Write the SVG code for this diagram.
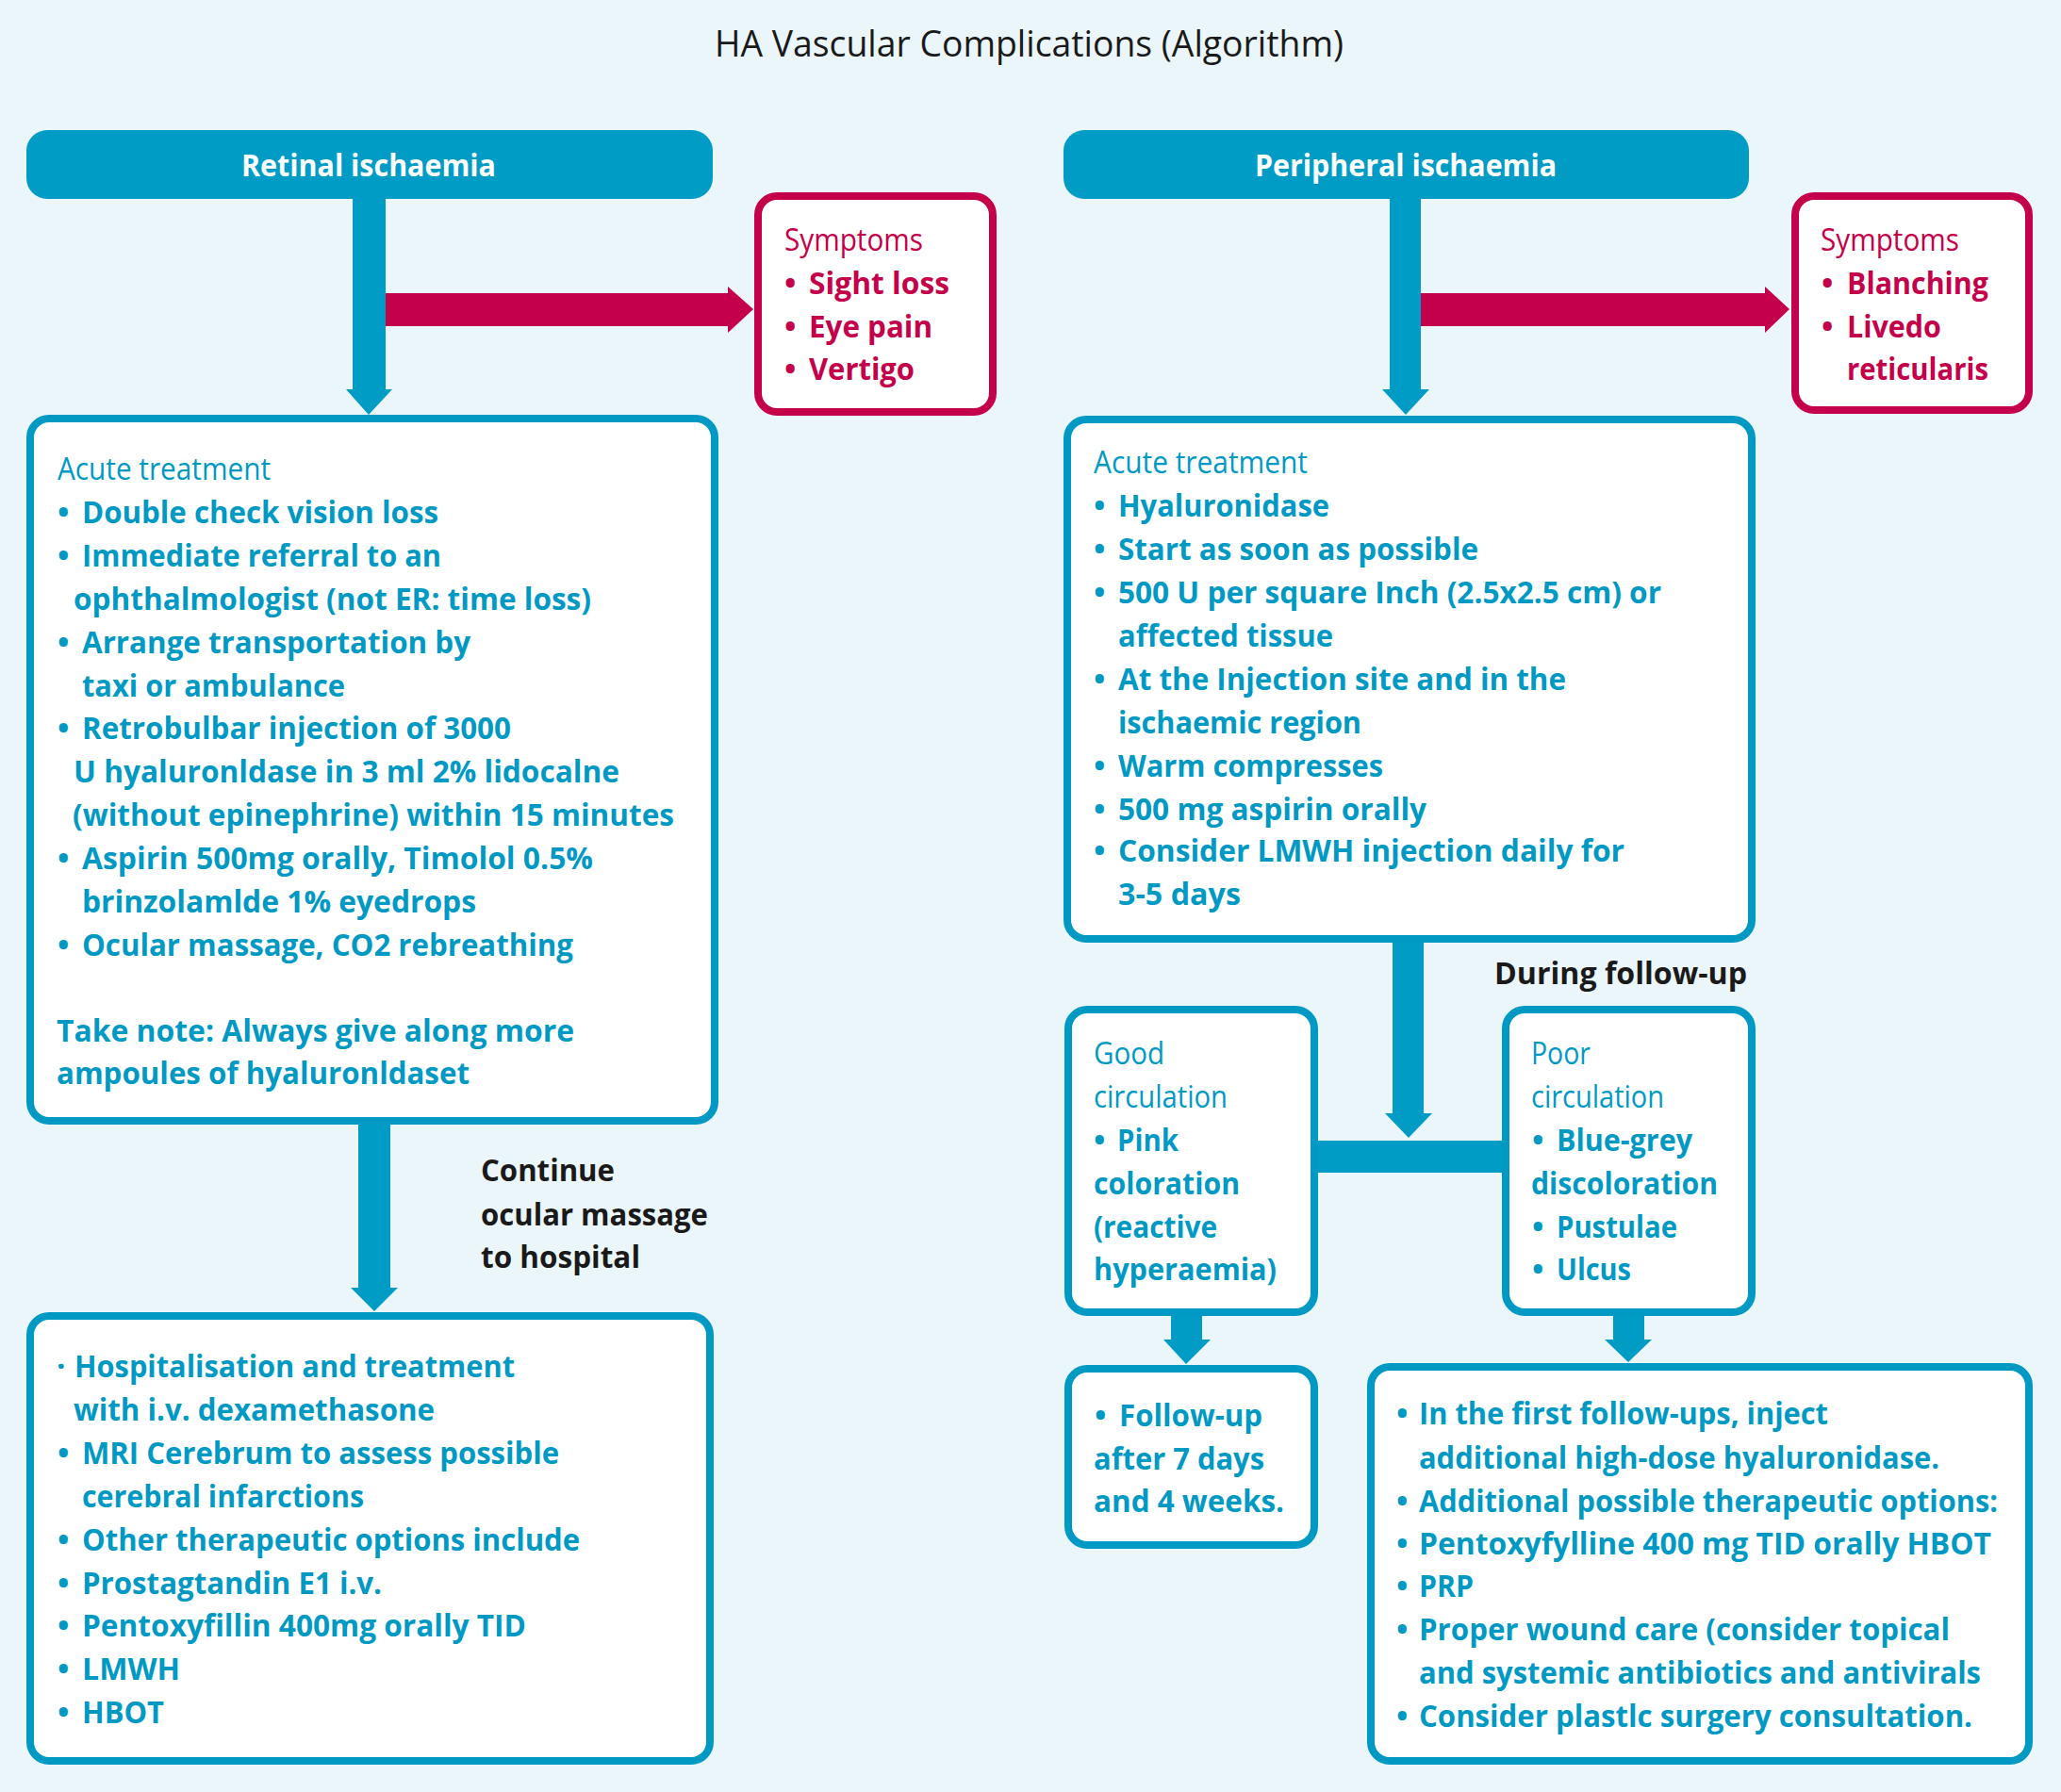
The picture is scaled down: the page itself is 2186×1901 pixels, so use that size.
<svg xmlns="http://www.w3.org/2000/svg" width="2186" height="1901" viewBox="0 0 2186 1901">
<style>
text{font-family:"Open Sans","Noto Sans","DejaVu Sans",sans-serif;font-size:33px}
.b{font-weight:700;fill:#0099C4}
.r{font-weight:400;fill:#0099C4;font-size:32px}
.rb{font-weight:700;fill:#C4004A}
.rr{font-weight:400;fill:#C4004A;font-size:32px}
.k{font-weight:700;fill:#1A1A1A}
.w{font-weight:700;fill:#FFFFFF}
.t{font-weight:400;fill:#1A1A1A;font-size:38px}
.box{fill:#FFFFFF;stroke:#0099C4;stroke-width:8}
.sbox{fill:#FFFFFF;stroke:#C4004A;stroke-width:8}
.hdr{fill:#009CC6}
.con{fill:#009CC6}
.rc{fill:#C4004A}
</style>
<rect width="2186" height="1901" fill="#EAF6FA"/>
<text class="t" x="758" y="60" textLength="667" lengthAdjust="spacingAndGlyphs">HA Vascular Complications (Algorithm)</text>

<g id="connectors">
<polygon class="con" points="374,205 409,205 409,413 416,413 391,440 367,413 374,413"/>
<polygon class="rc" points="409,311 772,311 772,304 799,328 772,353 772,346 409,346"/>
<polygon class="con" points="1474,205 1507,205 1507,413 1516,413 1491,440 1466,413 1474,413"/>
<polygon class="rc" points="1507,311 1872,311 1872,304 1898,328 1872,353 1872,346 1507,346"/>
<polygon class="con" points="1477,995 1510,995 1510,1181 1519,1181 1494,1207 1469,1181 1477,1181"/>
<rect class="con" x="1394" y="1210" width="203" height="34"/>
<polygon class="con" points="1242,1390 1275,1390 1275,1421 1284,1421 1258,1447 1234,1421 1242,1421"/>
<polygon class="con" points="1711,1390 1744,1390 1744,1421 1752,1421 1727,1445 1702,1421 1711,1421"/>
<polygon class="con" points="380,1188 414,1188 414,1366 422,1366 397,1391 372,1366 380,1366"/>
</g>

<g id="retinal-header">
<rect class="hdr" x="28" y="138" width="728" height="73" rx="22"/>
<text class="w" x="256" y="187" textLength="270" lengthAdjust="spacingAndGlyphs">Retinal ischaemia</text>
</g>

<g id="peripheral-header">
<rect class="hdr" x="1128" y="138" width="727" height="73" rx="22"/>
<text class="w" x="1331" y="187" textLength="320" lengthAdjust="spacingAndGlyphs">Peripheral ischaemia</text>
</g>

<g id="retinal-symptoms">
<rect class="sbox" x="804" y="208" width="249" height="229" rx="20"/>
<text class="rr" x="832" y="266" textLength="147" lengthAdjust="spacingAndGlyphs">Symptoms</text>
<text class="rb" x="832" y="312">•</text><text class="rb" x="858" y="312" textLength="149" lengthAdjust="spacingAndGlyphs">Sight loss</text>
<text class="rb" x="832" y="358">•</text><text class="rb" x="858" y="358" textLength="131" lengthAdjust="spacingAndGlyphs">Eye pain</text>
<text class="rb" x="832" y="403">•</text><text class="rb" x="858" y="403" textLength="112" lengthAdjust="spacingAndGlyphs">Vertigo</text>
</g>

<g id="peripheral-symptoms">
<rect class="sbox" x="1904" y="208" width="248" height="227" rx="20"/>
<text class="rr" x="1931" y="266" textLength="147" lengthAdjust="spacingAndGlyphs">Symptoms</text>
<text class="rb" x="1932" y="312">•</text><text class="rb" x="1959" y="312" textLength="150" lengthAdjust="spacingAndGlyphs">Blanching</text>
<text class="rb" x="1932" y="358">•</text><text class="rb" x="1959" y="358" textLength="100" lengthAdjust="spacingAndGlyphs">Livedo</text>
<text class="rb" x="1959" y="403" textLength="150" lengthAdjust="spacingAndGlyphs">reticularis</text>
</g>

<g id="retinal-acute">
<rect class="box" x="32" y="444" width="726" height="745" rx="20"/>
<text class="r" x="61" y="509" textLength="226" lengthAdjust="spacingAndGlyphs">Acute treatment</text>
<text class="b" x="61" y="555">•</text><text class="b" x="87" y="555" textLength="378" lengthAdjust="spacingAndGlyphs">Double check vision loss</text>
<text class="b" x="61" y="601">•</text><text class="b" x="87" y="601" textLength="381" lengthAdjust="spacingAndGlyphs">Immediate referral to an</text>
<text class="b" x="78" y="647" textLength="549" lengthAdjust="spacingAndGlyphs">ophthalmologist (not ER: time loss)</text>
<text class="b" x="61" y="693">•</text><text class="b" x="87" y="693" textLength="412" lengthAdjust="spacingAndGlyphs">Arrange transportation by</text>
<text class="b" x="87" y="739" textLength="279" lengthAdjust="spacingAndGlyphs">taxi or ambulance</text>
<text class="b" x="61" y="784">•</text><text class="b" x="87" y="784" textLength="455" lengthAdjust="spacingAndGlyphs">Retrobulbar injection of 3000</text>
<text class="b" x="78" y="830" textLength="579" lengthAdjust="spacingAndGlyphs">U hyaluronldase in 3 ml 2% lidocalne</text>
<text class="b" x="77" y="876" textLength="638" lengthAdjust="spacingAndGlyphs">(without epinephrine) within 15 minutes</text>
<text class="b" x="61" y="922">•</text><text class="b" x="87" y="922" textLength="542" lengthAdjust="spacingAndGlyphs">Aspirin 500mg orally, Timolol 0.5%</text>
<text class="b" x="87" y="968" textLength="418" lengthAdjust="spacingAndGlyphs">brinzolamlde 1% eyedrops</text>
<text class="b" x="61" y="1014">•</text><text class="b" x="87" y="1014" textLength="521" lengthAdjust="spacingAndGlyphs">Ocular massage, CO2 rebreathing</text>
<text class="b" x="60" y="1105" textLength="549" lengthAdjust="spacingAndGlyphs">Take note: Always give along more</text>
<text class="b" x="60" y="1150" textLength="438" lengthAdjust="spacingAndGlyphs">ampoules of hyaluronldaset</text>
</g>

<g id="continue-label">
<text class="k" x="510" y="1253" textLength="142" lengthAdjust="spacingAndGlyphs">Continue</text>
<text class="k" x="510" y="1300" textLength="241" lengthAdjust="spacingAndGlyphs">ocular massage</text>
<text class="k" x="510" y="1345" textLength="169" lengthAdjust="spacingAndGlyphs">to hospital</text>
</g>

<g id="retinal-hospital">
<rect class="box" x="32" y="1396" width="721" height="472" rx="20"/>
<text class="b" x="60" y="1461">·</text>
<text class="b" x="79" y="1461" textLength="467" lengthAdjust="spacingAndGlyphs">Hospitalisation and treatment</text>
<text class="b" x="78" y="1507" textLength="383" lengthAdjust="spacingAndGlyphs">with i.v. dexamethasone</text>
<text class="b" x="61" y="1553">•</text><text class="b" x="87" y="1553" textLength="506" lengthAdjust="spacingAndGlyphs">MRI Cerebrum to assess possible</text>
<text class="b" x="87" y="1599" textLength="299" lengthAdjust="spacingAndGlyphs">cerebral infarctions</text>
<text class="b" x="61" y="1645">•</text><text class="b" x="87" y="1645" textLength="528" lengthAdjust="spacingAndGlyphs">Other therapeutic options include</text>
<text class="b" x="61" y="1691">•</text><text class="b" x="87" y="1691" textLength="318" lengthAdjust="spacingAndGlyphs">Prostagtandin E1 i.v.</text>
<text class="b" x="61" y="1736">•</text><text class="b" x="87" y="1736" textLength="471" lengthAdjust="spacingAndGlyphs">Pentoxyfillin 400mg orally TID</text>
<text class="b" x="61" y="1782">•</text><text class="b" x="87" y="1782" textLength="104" lengthAdjust="spacingAndGlyphs">LMWH</text>
<text class="b" x="61" y="1828">•</text><text class="b" x="87" y="1828" textLength="87" lengthAdjust="spacingAndGlyphs">HBOT</text>
</g>

<g id="peripheral-acute">
<rect class="box" x="1132" y="445" width="726" height="551" rx="20"/>
<text class="r" x="1160" y="502" textLength="227" lengthAdjust="spacingAndGlyphs">Acute treatment</text>
<text class="b" x="1160" y="548">•</text><text class="b" x="1186" y="548" textLength="224" lengthAdjust="spacingAndGlyphs">Hyaluronidase</text>
<text class="b" x="1160" y="594">•</text><text class="b" x="1186" y="594" textLength="382" lengthAdjust="spacingAndGlyphs">Start as soon as possible</text>
<text class="b" x="1160" y="640">•</text><text class="b" x="1186" y="640" textLength="576" lengthAdjust="spacingAndGlyphs">500 U per square Inch (2.5x2.5 cm) or</text>
<text class="b" x="1186" y="686" textLength="228" lengthAdjust="spacingAndGlyphs">affected tissue</text>
<text class="b" x="1160" y="732">•</text><text class="b" x="1186" y="732" textLength="475" lengthAdjust="spacingAndGlyphs">At the Injection site and in the</text>
<text class="b" x="1186" y="778" textLength="258" lengthAdjust="spacingAndGlyphs">ischaemic region</text>
<text class="b" x="1160" y="824">•</text><text class="b" x="1186" y="824" textLength="281" lengthAdjust="spacingAndGlyphs">Warm compresses</text>
<text class="b" x="1160" y="870">•</text><text class="b" x="1186" y="870" textLength="327" lengthAdjust="spacingAndGlyphs">500 mg aspirin orally</text>
<text class="b" x="1160" y="914">•</text><text class="b" x="1186" y="914" textLength="537" lengthAdjust="spacingAndGlyphs">Consider LMWH injection daily for</text>
<text class="b" x="1186" y="960" textLength="130" lengthAdjust="spacingAndGlyphs">3-5 days</text>
</g>

<g id="followup-label">
<text class="k" x="1585" y="1044" textLength="268" lengthAdjust="spacingAndGlyphs">During follow-up</text>
</g>

<g id="good-circulation">
<rect class="box" x="1133" y="1071" width="261" height="321" rx="20"/>
<text class="r" x="1160" y="1129" textLength="75" lengthAdjust="spacingAndGlyphs">Good</text>
<text class="r" x="1160" y="1175" textLength="142" lengthAdjust="spacingAndGlyphs">circulation</text>
<text class="b" x="1160" y="1221">•</text><text class="b" x="1185" y="1221" textLength="65" lengthAdjust="spacingAndGlyphs">Pink</text>
<text class="b" x="1160" y="1267" textLength="155" lengthAdjust="spacingAndGlyphs">coloration</text>
<text class="b" x="1160" y="1313" textLength="131" lengthAdjust="spacingAndGlyphs">(reactive</text>
<text class="b" x="1160" y="1358" textLength="194" lengthAdjust="spacingAndGlyphs">hyperaemia)</text>
</g>

<g id="poor-circulation">
<rect class="box" x="1597" y="1071" width="261" height="321" rx="20"/>
<text class="r" x="1624" y="1129" textLength="63" lengthAdjust="spacingAndGlyphs">Poor</text>
<text class="r" x="1624" y="1175" textLength="141" lengthAdjust="spacingAndGlyphs">circulation</text>
<text class="b" x="1625" y="1221">•</text><text class="b" x="1651" y="1221" textLength="144" lengthAdjust="spacingAndGlyphs">Blue-grey</text>
<text class="b" x="1624" y="1267" textLength="198" lengthAdjust="spacingAndGlyphs">discoloration</text>
<text class="b" x="1625" y="1313">•</text><text class="b" x="1651" y="1313" textLength="128" lengthAdjust="spacingAndGlyphs">Pustulae</text>
<text class="b" x="1625" y="1358">•</text><text class="b" x="1651" y="1358" textLength="79" lengthAdjust="spacingAndGlyphs">Ulcus</text>
</g>

<g id="good-followup">
<rect class="box" x="1133" y="1452" width="261" height="187" rx="20"/>
<text class="b" x="1161" y="1513">•</text><text class="b" x="1187" y="1513" textLength="152" lengthAdjust="spacingAndGlyphs">Follow-up</text>
<text class="b" x="1160" y="1559" textLength="181" lengthAdjust="spacingAndGlyphs">after 7 days</text>
<text class="b" x="1160" y="1604" textLength="202" lengthAdjust="spacingAndGlyphs">and 4 weeks.</text>
</g>

<g id="poor-treatment">
<rect class="box" x="1454" y="1450" width="698" height="418" rx="20"/>
<text class="b" x="1481" y="1511">•</text><text class="b" x="1505" y="1511" textLength="434" lengthAdjust="spacingAndGlyphs">In the first follow-ups, inject</text>
<text class="b" x="1505" y="1558" textLength="552" lengthAdjust="spacingAndGlyphs">additional high-dose hyaluronidase.</text>
<text class="b" x="1481" y="1604">•</text><text class="b" x="1505" y="1604" textLength="614" lengthAdjust="spacingAndGlyphs">Additional possible therapeutic options:</text>
<text class="b" x="1481" y="1649">•</text><text class="b" x="1505" y="1649" textLength="607" lengthAdjust="spacingAndGlyphs">Pentoxyfylline 400 mg TID orally HBOT</text>
<text class="b" x="1481" y="1694">•</text><text class="b" x="1505" y="1694" textLength="58" lengthAdjust="spacingAndGlyphs">PRP</text>
<text class="b" x="1481" y="1740">•</text><text class="b" x="1505" y="1740" textLength="563" lengthAdjust="spacingAndGlyphs">Proper wound care (consider topical</text>
<text class="b" x="1505" y="1786" textLength="596" lengthAdjust="spacingAndGlyphs">and systemic antibiotics and antivirals</text>
<text class="b" x="1481" y="1832">•</text><text class="b" x="1505" y="1832" textLength="587" lengthAdjust="spacingAndGlyphs">Consider plastlc surgery consultation.</text>
</g>
</svg>
